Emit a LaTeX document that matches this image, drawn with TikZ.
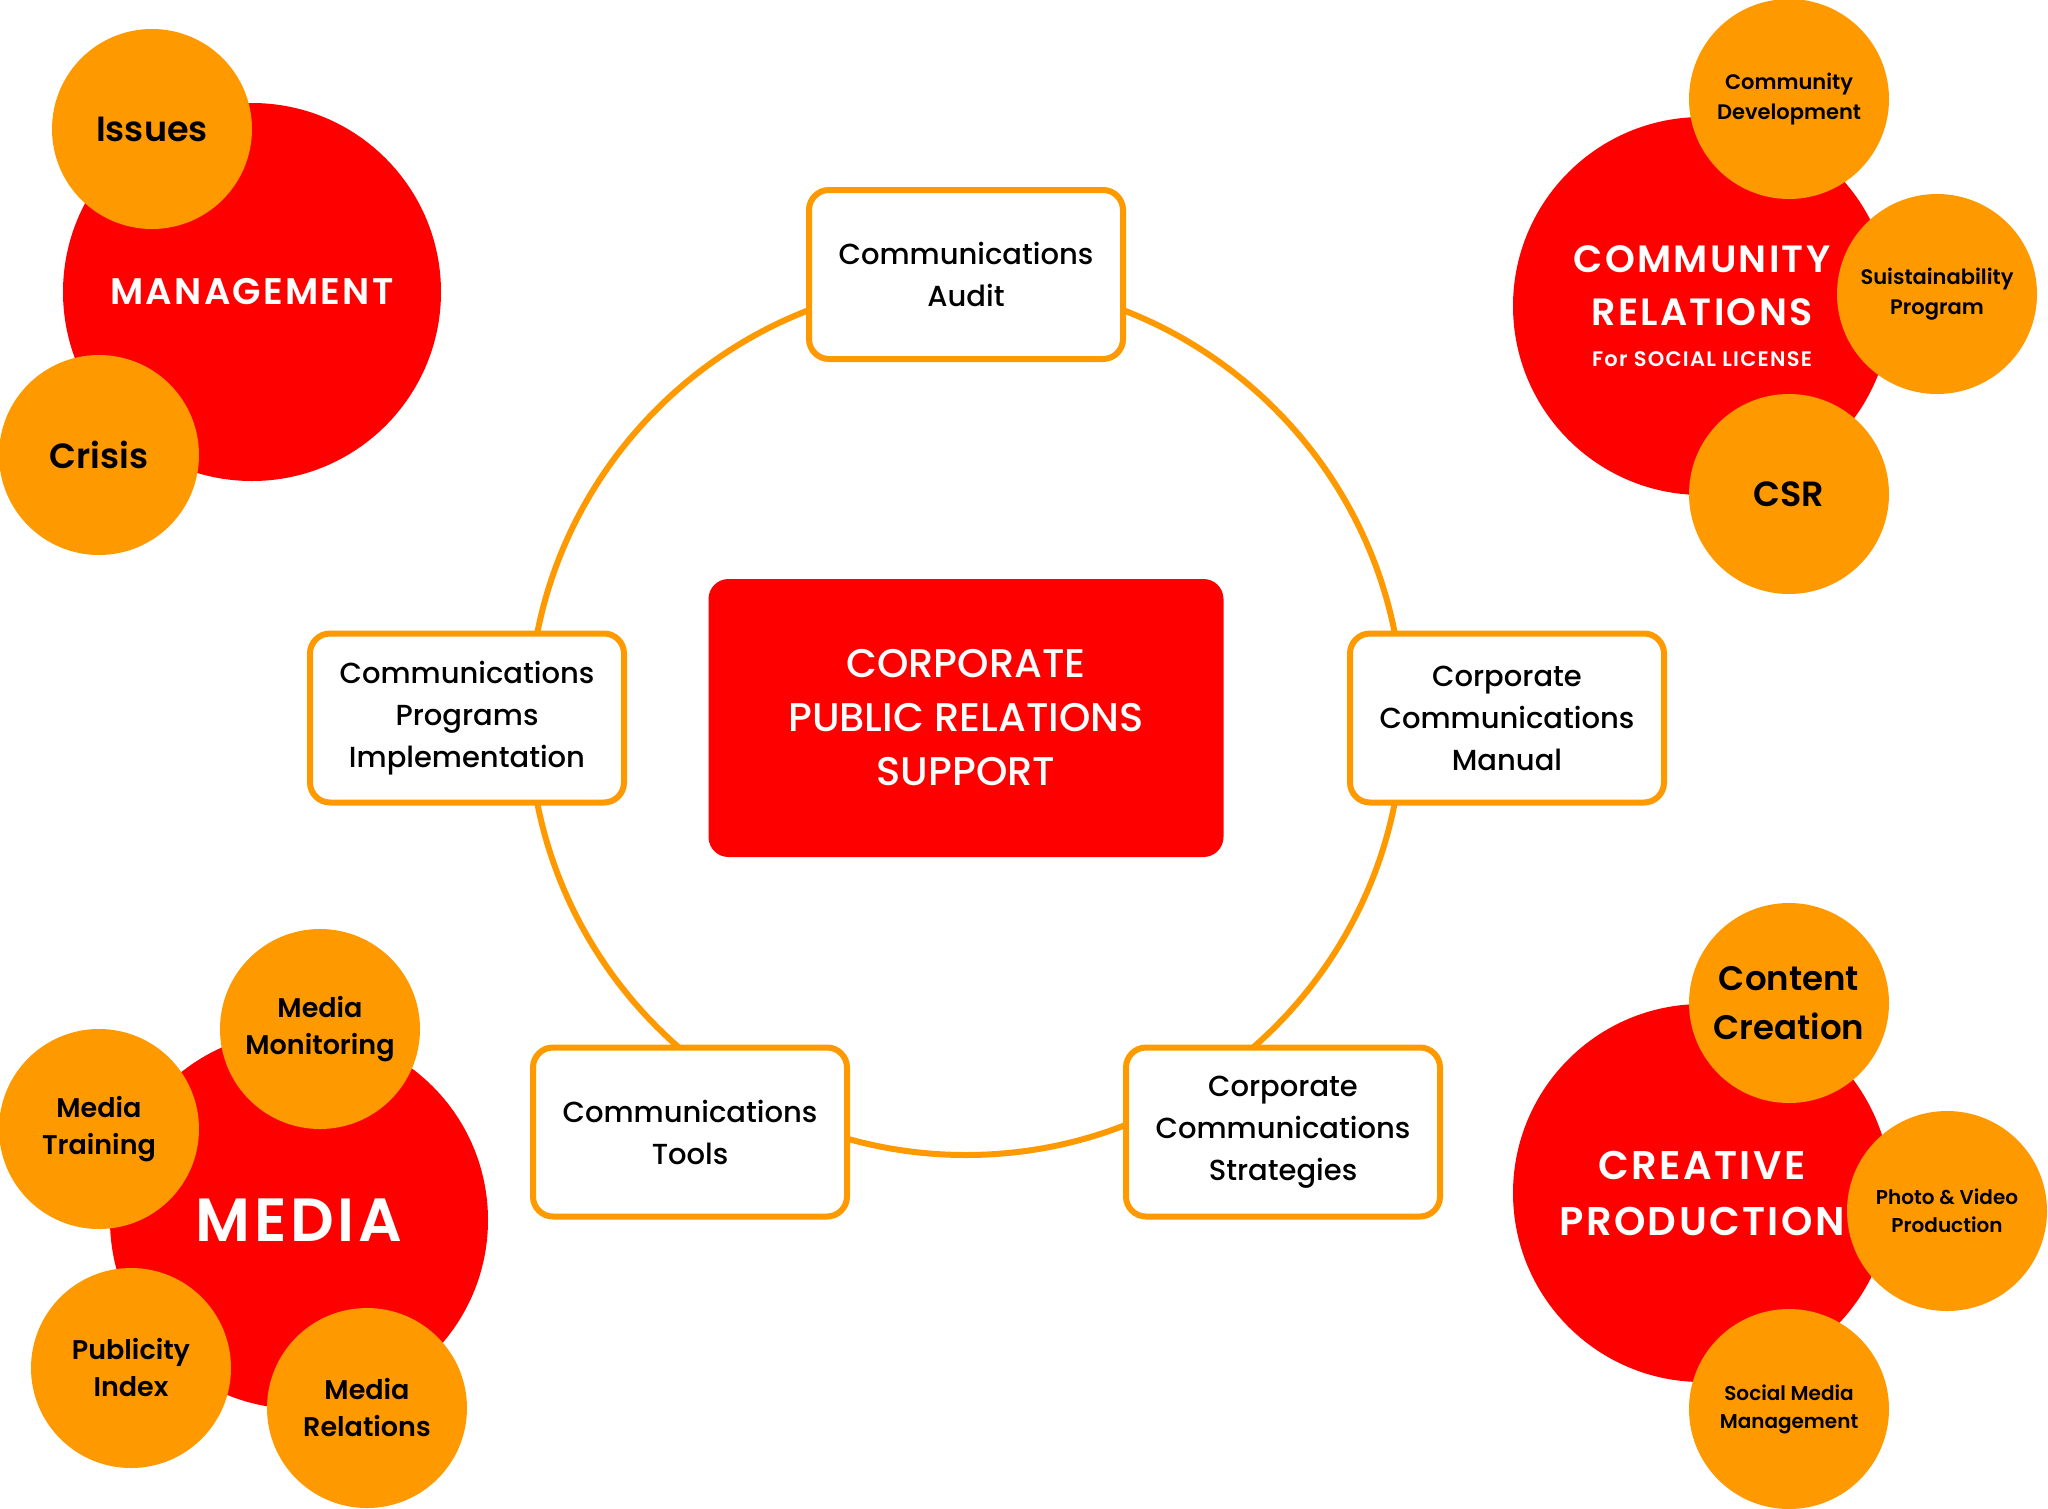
\documentclass[tikz,border=0pt]{standalone}
\usepackage{fontspec}
\setmainfont{Poppins}
\newfontfamily\medfont{Poppins Medium}
\newfontfamily\semifont{Poppins SemiBold}
\newfontfamily\trackfont{Poppins SemiBold}[LetterSpace=6]
\definecolor{cred}{RGB}{255,0,0}
\definecolor{corange}{RGB}{255,153,0}
\begin{document}
\begin{tikzpicture}[x=1pt,y=-1pt,
  stepbox/.style={draw=corange, line width=6pt, fill=white, rounded corners=20pt,
    minimum width=314pt, minimum height=169pt, inner sep=0pt, align=center,
    font=\medfont\fontsize{29}{42}\selectfont, text=black},
  corebox/.style={fill=cred, rounded corners=20pt, minimum width=515pt, minimum height=278pt,
    inner sep=0pt, align=center, text=white, font=\medfont\fontsize{40}{54}\selectfont},
  bigc/.style={circle, fill=cred, minimum size=378pt, inner sep=0pt, align=center, text=white},
  smallc/.style={circle, fill=corange, minimum size=200pt, inner sep=0pt, align=center, text=black},
  ring/.style={draw=corange, line width=6pt}
]
\useasboundingbox (0,0) rectangle (2048,1508);
\fill[white] (0,0) rectangle (2048,1508);

% ring
\coordinate (rc) at (966,718);
\draw[ring] (rc) circle[radius=437pt];

% boxes
\node[stepbox] (audit) at (966,274.5) {Communications\\Audit};
\node[stepbox] (impl) at (467,718) {Communications\\Programs\\Implementation};
\node[stepbox] (manual) at (1507,718) {Corporate\\Communications\\Manual};
\node[stepbox] (tools) at (690,1132) {Communications\\Tools};
\node[stepbox] (strat) at (1283,1132) {Corporate\\Communications\\Strategies};
\node[corebox] (core) at (966,718) {CORPORATE\\PUBLIC RELATIONS\\SUPPORT};

% Management
\node[bigc, font=\trackfont\fontsize{37}{48}\selectfont] (mgmt) at (252,292) {MANAGEMENT};
\node[smallc, font=\semifont\fontsize{35}{46}\selectfont] (issues) at (152,129) {Issues};
\node[smallc, font=\semifont\fontsize{35}{46}\selectfont] (crisis) at (99,455) {Crisis};

% Community relations
\node[bigc, font=\trackfont\fontsize{38}{53}\selectfont] (comrel) at (1702,306)
  {COMMUNITY\\RELATIONS\\[-12pt]{\fontsize{21}{28}\selectfont For SOCIAL LICENSE}};
\node[smallc, font=\semifont\fontsize{21}{30}\selectfont] (comdev) at (1789,99) {Community\\Development};
\node[smallc, font=\semifont\fontsize{21}{30}\selectfont] (sust) at (1937,294) {Suistainability\\Program};
\node[smallc, font=\semifont\fontsize{35}{46}\selectfont] (csr) at (1789,494) {CSR};

% Creative production
\node[bigc, font=\trackfont\fontsize{40}{56}\selectfont] (creat) at (1702,1193) {CREATIVE\\PRODUCTION};
\node[smallc, font=\semifont\fontsize{34}{49}\selectfont] (content) at (1789,1003) {Content\\Creation};
\node[smallc, font=\semifont\fontsize{20}{28}\selectfont] (photo) at (1947,1211) {Photo \& Video\\Production};
\node[smallc, font=\semifont\fontsize{20}{28}\selectfont] (social) at (1789,1409) {Social Media\\Management};

% Media
\node[bigc, font=\trackfont\fontsize{61}{70}\selectfont] (media) at (299,1220) {MEDIA};
\node[smallc, font=\semifont\fontsize{27}{37}\selectfont] (monit) at (320,1029) {Media\\Monitoring};
\node[smallc, font=\semifont\fontsize{27}{37}\selectfont] (train) at (99,1129) {Media\\Training};
\node[smallc, font=\semifont\fontsize{27}{37}\selectfont] (pub) at (131,1368) {Publicity\\Index};
\node[smallc, font=\semifont\fontsize{27}{37}\selectfont] (rel) at (367,1408) {Media\\Relations};
\end{tikzpicture}
\end{document}
